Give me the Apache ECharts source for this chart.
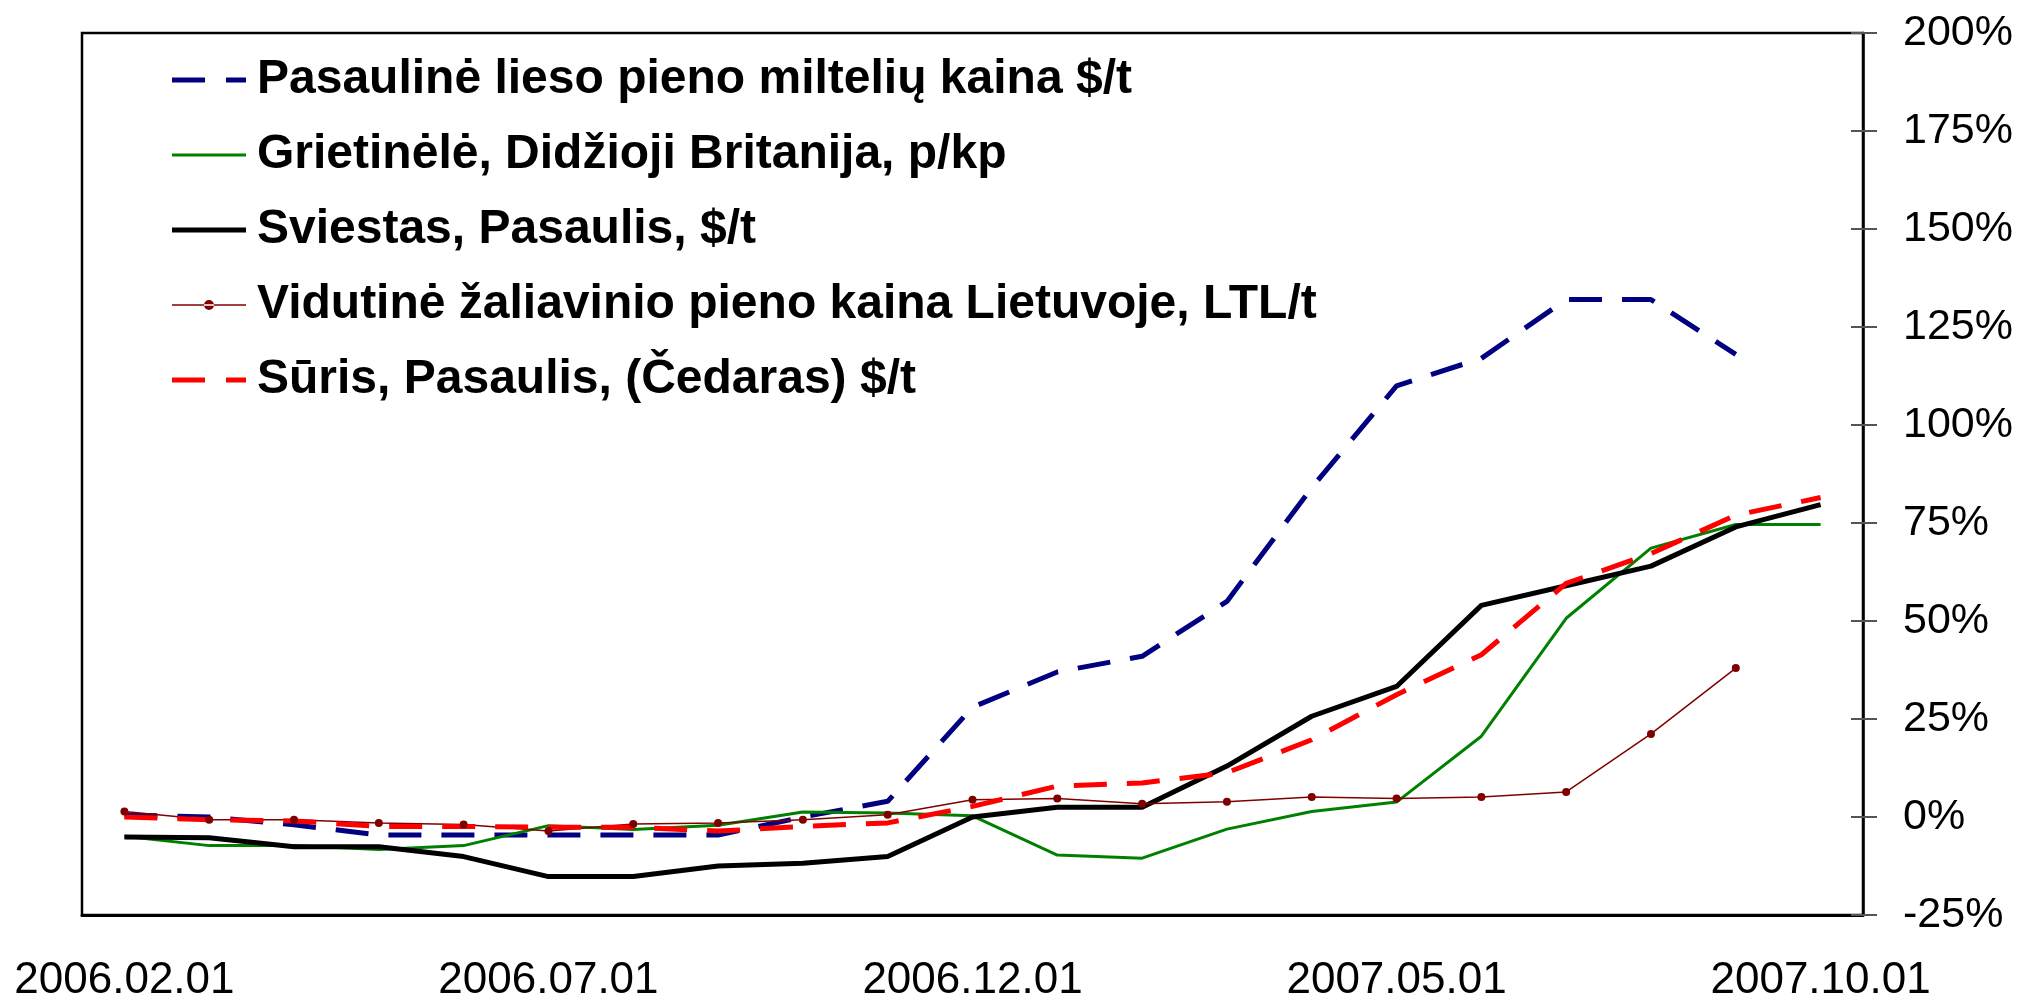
<!DOCTYPE html>
<html>
<head>
<meta charset="utf-8">
<script src="https://cdn.jsdelivr.net/npm/echarts@6/dist/echarts.min.js"></script>
<style>
  html, body { margin: 0; padding: 0; background: #fff; }
  #main { width: 2017px; height: 1003px; }
</style>
</head>
<body>
<div id="main"></div>
<script>
// monthly points, 2006.02 - 2007.10
var months = ['2006.02.01','2006.03.01','2006.04.01','2006.05.01','2006.06.01','2006.07.01','2006.08.01',
    '2006.09.01','2006.10.01','2006.11.01','2006.12.01','2007.01.01','2007.02.01','2007.03.01',
    '2007.04.01','2007.05.01','2007.06.01','2007.07.01','2007.08.01','2007.09.01','2007.10.01'];

// % change vs. 2006.02
var miltelia = [0.5, 0, -2, -4.6, -4.6, -4.6, -4.6, -4.6, 0, 4, 28, 37, 41, 55, 84, 110, 117, 132, 132, 118, null];
var grietinele = [-4.9, -7.3, -7.3, -8.3, -7.3, -2.2, -3.2, -2.1, 1.3, 1.0, 0.3, -9.7, -10.5, -3.1, 1.4, 3.8, 20.6, 50.7, 68.6, 74.6, 74.6];
var sviestas = [-5.1, -5.3, -7.6, -7.6, -10.1, -15.2, -15.2, -12.5, -11.8, -10.1, 0, 2.5, 2.5, 13, 25.7, 33.3, 54, 59, 64, 74, 79.7];
var pienas = [1.4, -0.7, -0.7, -1.5, -1.9, -3.6, -1.8, -1.5, -0.7, 0.6, 4.4, 4.7, 3.4, 3.9, 5.1, 4.7, 5.1, 6.4, 21.2, 38, null];
var suris = [0, -0.7, -1, -2.4, -2.4, -2.6, -2.6, -3.6, -2.4, -1.5, 2.7, 7.9, 8.7, 11.3, 19.7, 31.2, 41.4, 59.6, 67.2, 77, 81.5];

var names = [
    'Pasaulinė lieso pieno miltelių kaina $/t',
    'Grietinėlė, Didžioji Britanija, p/kp',
    'Sviestas, Pasaulis, $/t',
    'Vidutinė žaliavinio pieno kaina Lietuvoje, LTL/t',
    'Sūris, Pasaulis, (Čedaras) $/t'
];

var yMin = -25, yMax = 200, yStep = 25;

// legend keys drawn like the lines (74 wide)
var iconDash = 'path://M0,0h33v5h-33z M54,0h20v5h-20z';
var iconThin = 'path://M0,0h74v3h-74z';
var iconThick = 'path://M0,0h74v5h-74z';
var iconDot = 'path://M0,4.3h74v1.4h-74z M32,5a5,5 0 1,0 10,0a5,5 0 1,0 -10,0z';

var myChart = echarts.init(document.getElementById('main'));
var option = {
    animation: false,
    textStyle: { fontFamily: 'Liberation Sans, Arial, sans-serif' },
    grid: {
        left: 82, right: 154, top: 33, bottom: 86,
        show: true,
        borderColor: '#000',
        borderWidth: 2.5
    },
    legend: {
        orient: 'vertical',
        left: 167,
        top: 51,
        itemWidth: 74,
        itemHeight: 12,
        itemGap: 27,
        symbolKeepAspect: true,
        textStyle: {
            fontSize: 48,
            fontWeight: 'bold',
            color: '#000',
            lineHeight: 48,
            padding: [0, 0, 0, 6],
            fontFamily: 'Liberation Sans, Arial, sans-serif'
        },
        data: [
            { name: names[0], icon: iconDash },
            { name: names[1], icon: iconThin },
            { name: names[2], icon: iconThick },
            { name: names[3], icon: iconDot },
            { name: names[4], icon: iconDash }
        ]
    },
    xAxis: {
        type: 'category',
        boundaryGap: true,
        data: months,
        axisLine: { onZero: false, lineStyle: { color: '#000', width: 3 } },
        axisTick: { show: false },
        axisLabel: {
            interval: 4,
            fontSize: 44,
            color: '#000',
            margin: 44
        },
        splitLine: { show: false }
    },
    yAxis: [
        {
            type: 'value',
            position: 'right',
            min: yMin, max: yMax, interval: yStep,
            axisLine: { show: true, lineStyle: { color: '#000', width: 2.5 } },
            axisTick: { show: true, length: 14, lineStyle: { color: '#555', width: 2 } },
            axisLabel: {
                fontSize: 43,
                color: '#000',
                margin: 40,
                formatter: function (v) { return v + '%'; }
            },
            splitLine: { show: false }
        },
        {
            // inner half of the crossing ticks
            type: 'value',
            position: 'right',
            min: yMin, max: yMax, interval: yStep,
            axisLine: { show: false },
            axisTick: { show: true, inside: true, length: 12, lineStyle: { color: '#555', width: 2 } },
            axisLabel: { show: false },
            splitLine: { show: false }
        }
    ],
    series: [
        {
            name: names[0], type: 'line', data: miltelia,
            symbol: 'none',
            lineStyle: { color: '#000080', width: 5, type: [33, 20] },
            itemStyle: { color: '#000080' }
        },
        {
            name: names[1], type: 'line', data: grietinele,
            symbol: 'none',
            lineStyle: { color: '#008000', width: 3 },
            itemStyle: { color: '#008000' }
        },
        {
            name: names[2], type: 'line', data: sviestas,
            symbol: 'none',
            lineStyle: { color: '#000', width: 5 },
            itemStyle: { color: '#000' }
        },
        {
            name: names[3], type: 'line', data: pienas,
            symbol: 'circle', symbolSize: 8,
            lineStyle: { color: '#800000', width: 1.5 },
            itemStyle: { color: '#800000' }
        },
        {
            name: names[4], type: 'line', data: suris,
            symbol: 'none',
            lineStyle: { color: '#ff0000', width: 5, type: [33, 20] },
            itemStyle: { color: '#ff0000' }
        }
    ]
};
myChart.setOption(option);
window.onresize = myChart.resize;
</script>
</body>
</html>
